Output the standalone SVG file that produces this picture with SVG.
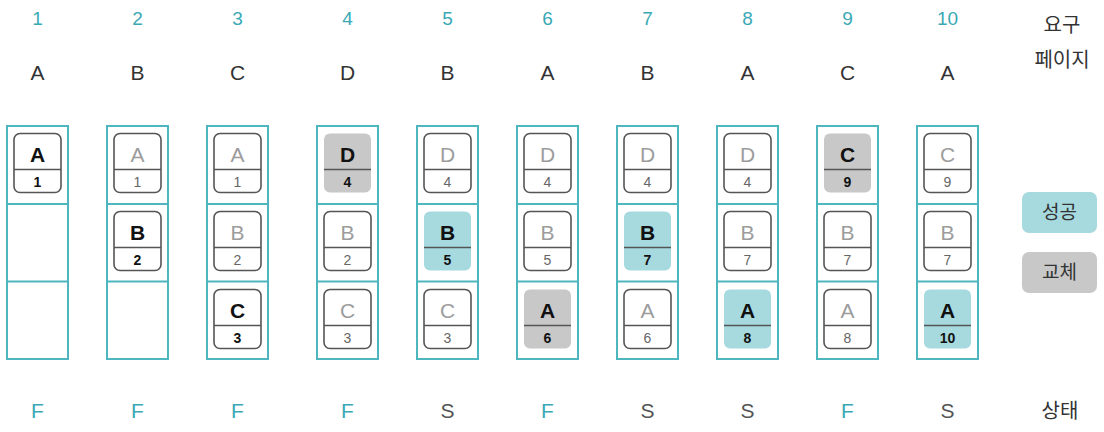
<svg xmlns="http://www.w3.org/2000/svg" width="1104" height="432" viewBox="0 0 1104 432">
<style>
text{font-family:"Liberation Sans","Noto Sans CJK KR",sans-serif;text-anchor:middle}
.num{fill:#3aa9b5;font-size:19px}
.req{fill:#333;font-size:21px}
.ko{fill:#333;font-size:20px;font-family:"Noto Sans CJK KR",sans-serif}
.f{fill:#3aa9b5;font-size:21px}
.s{fill:#555;font-size:21px}
.frame{fill:none;stroke:#4db6be;stroke-width:2}
.div{stroke:#4db6be;stroke-width:2}
.cb{fill:#fff;stroke:#555;stroke-width:1.6}
.ct{fill:#a6dadf;stroke:none}
.cg{fill:#c8c8c8;stroke:none}
.cl{stroke:#555;stroke-width:1.6}
.L{font-size:21px}
.N{font-size:14px}
.bold .L,.bold .N{fill:#111;font-weight:700}
.fade .L{fill:#9c9c9c}
.fade .N{fill:#666}
.lg{fill:#333;font-size:19px;font-family:"Noto Sans CJK KR",sans-serif}
</style>
<defs>
<g id="frame"><rect class="frame" x="0" y="0" width="61" height="233"/><line class="div" x1="0" y1="78" x2="61" y2="78"/><line class="div" x1="0" y1="155.5" x2="61" y2="155.5"/></g>
</defs>
<g id="header">
<text class="num" x="37.5" y="25">1</text><text class="num" x="137.5" y="25">2</text><text class="num" x="237.5" y="25">3</text><text class="num" x="347.5" y="25">4</text><text class="num" x="447.5" y="25">5</text><text class="num" x="547.5" y="25">6</text><text class="num" x="647.5" y="25">7</text><text class="num" x="747.5" y="25">8</text><text class="num" x="847.5" y="25">9</text><text class="num" x="947.5" y="25">10</text>
<text class="req" x="37.5" y="80">A</text><text class="req" x="137.5" y="80">B</text><text class="req" x="237.5" y="80">C</text><text class="req" x="347.5" y="80">D</text><text class="req" x="447.5" y="80">B</text><text class="req" x="547.5" y="80">A</text><text class="req" x="647.5" y="80">B</text><text class="req" x="747.5" y="80">A</text><text class="req" x="847.5" y="80">C</text><text class="req" x="947.5" y="80">A</text>
<text class="ko" x="1062" y="32">요구</text>
<text class="ko" x="1062" y="67">페이지</text>
</g>
<g id="frames">
<use href="#frame" x="7" y="126"/><use href="#frame" x="107" y="126"/><use href="#frame" x="207" y="126"/><use href="#frame" x="317" y="126"/><use href="#frame" x="417" y="126"/><use href="#frame" x="517" y="126"/><use href="#frame" x="617" y="126"/><use href="#frame" x="717" y="126"/><use href="#frame" x="817" y="126"/><use href="#frame" x="917" y="126"/>
</g>
<g id="cards">
<!-- col 1 -->
<g id="c1r1" class="bold" transform="translate(14,133.5)"><rect class="cb" width="47" height="59" rx="6"/><line class="cl" x1="0" y1="36" x2="47" y2="36"/><text class="L" x="23.5" y="28">A</text><text class="N" x="23.5" y="53">1</text></g>
<!-- col 2 -->
<g id="c2r1" class="fade" transform="translate(114,133.5)"><rect class="cb" width="47" height="59" rx="6"/><line class="cl" x1="0" y1="36" x2="47" y2="36"/><text class="L" x="23.5" y="28">A</text><text class="N" x="23.5" y="53">1</text></g>
<g id="c2r2" class="bold" transform="translate(114,211.5)"><rect class="cb" width="47" height="59" rx="6"/><line class="cl" x1="0" y1="36" x2="47" y2="36"/><text class="L" x="23.5" y="28">B</text><text class="N" x="23.5" y="53">2</text></g>
<!-- col 3 -->
<g id="c3r1" class="fade" transform="translate(214,133.5)"><rect class="cb" width="47" height="59" rx="6"/><line class="cl" x1="0" y1="36" x2="47" y2="36"/><text class="L" x="23.5" y="28">A</text><text class="N" x="23.5" y="53">1</text></g>
<g id="c3r2" class="fade" transform="translate(214,211.5)"><rect class="cb" width="47" height="59" rx="6"/><line class="cl" x1="0" y1="36" x2="47" y2="36"/><text class="L" x="23.5" y="28">B</text><text class="N" x="23.5" y="53">2</text></g>
<g id="c3r3" class="bold" transform="translate(214,289.5)"><rect class="cb" width="47" height="59" rx="6"/><line class="cl" x1="0" y1="36" x2="47" y2="36"/><text class="L" x="23.5" y="28">C</text><text class="N" x="23.5" y="53">3</text></g>
<!-- col 4 -->
<g id="c4r1" class="bold" transform="translate(324,133.5)"><rect class="cg" width="47" height="59" rx="6"/><line class="cl" x1="0" y1="36" x2="47" y2="36"/><text class="L" x="23.5" y="28">D</text><text class="N" x="23.5" y="53">4</text></g>
<g id="c4r2" class="fade" transform="translate(324,211.5)"><rect class="cb" width="47" height="59" rx="6"/><line class="cl" x1="0" y1="36" x2="47" y2="36"/><text class="L" x="23.5" y="28">B</text><text class="N" x="23.5" y="53">2</text></g>
<g id="c4r3" class="fade" transform="translate(324,289.5)"><rect class="cb" width="47" height="59" rx="6"/><line class="cl" x1="0" y1="36" x2="47" y2="36"/><text class="L" x="23.5" y="28">C</text><text class="N" x="23.5" y="53">3</text></g>
<!-- col 5 -->
<g id="c5r1" class="fade" transform="translate(424,133.5)"><rect class="cb" width="47" height="59" rx="6"/><line class="cl" x1="0" y1="36" x2="47" y2="36"/><text class="L" x="23.5" y="28">D</text><text class="N" x="23.5" y="53">4</text></g>
<g id="c5r2" class="bold" transform="translate(424,211.5)"><rect class="ct" width="47" height="59" rx="6"/><line class="cl" x1="0" y1="36" x2="47" y2="36"/><text class="L" x="23.5" y="28">B</text><text class="N" x="23.5" y="53">5</text></g>
<g id="c5r3" class="fade" transform="translate(424,289.5)"><rect class="cb" width="47" height="59" rx="6"/><line class="cl" x1="0" y1="36" x2="47" y2="36"/><text class="L" x="23.5" y="28">C</text><text class="N" x="23.5" y="53">3</text></g>
<!-- col 6 -->
<g id="c6r1" class="fade" transform="translate(524,133.5)"><rect class="cb" width="47" height="59" rx="6"/><line class="cl" x1="0" y1="36" x2="47" y2="36"/><text class="L" x="23.5" y="28">D</text><text class="N" x="23.5" y="53">4</text></g>
<g id="c6r2" class="fade" transform="translate(524,211.5)"><rect class="cb" width="47" height="59" rx="6"/><line class="cl" x1="0" y1="36" x2="47" y2="36"/><text class="L" x="23.5" y="28">B</text><text class="N" x="23.5" y="53">5</text></g>
<g id="c6r3" class="bold" transform="translate(524,289.5)"><rect class="cg" width="47" height="59" rx="6"/><line class="cl" x1="0" y1="36" x2="47" y2="36"/><text class="L" x="23.5" y="28">A</text><text class="N" x="23.5" y="53">6</text></g>
<!-- col 7 -->
<g id="c7r1" class="fade" transform="translate(624,133.5)"><rect class="cb" width="47" height="59" rx="6"/><line class="cl" x1="0" y1="36" x2="47" y2="36"/><text class="L" x="23.5" y="28">D</text><text class="N" x="23.5" y="53">4</text></g>
<g id="c7r2" class="bold" transform="translate(624,211.5)"><rect class="ct" width="47" height="59" rx="6"/><line class="cl" x1="0" y1="36" x2="47" y2="36"/><text class="L" x="23.5" y="28">B</text><text class="N" x="23.5" y="53">7</text></g>
<g id="c7r3" class="fade" transform="translate(624,289.5)"><rect class="cb" width="47" height="59" rx="6"/><line class="cl" x1="0" y1="36" x2="47" y2="36"/><text class="L" x="23.5" y="28">A</text><text class="N" x="23.5" y="53">6</text></g>
<!-- col 8 -->
<g id="c8r1" class="fade" transform="translate(724,133.5)"><rect class="cb" width="47" height="59" rx="6"/><line class="cl" x1="0" y1="36" x2="47" y2="36"/><text class="L" x="23.5" y="28">D</text><text class="N" x="23.5" y="53">4</text></g>
<g id="c8r2" class="fade" transform="translate(724,211.5)"><rect class="cb" width="47" height="59" rx="6"/><line class="cl" x1="0" y1="36" x2="47" y2="36"/><text class="L" x="23.5" y="28">B</text><text class="N" x="23.5" y="53">7</text></g>
<g id="c8r3" class="bold" transform="translate(724,289.5)"><rect class="ct" width="47" height="59" rx="6"/><line class="cl" x1="0" y1="36" x2="47" y2="36"/><text class="L" x="23.5" y="28">A</text><text class="N" x="23.5" y="53">8</text></g>
<!-- col 9 -->
<g id="c9r1" class="bold" transform="translate(824,133.5)"><rect class="cg" width="47" height="59" rx="6"/><line class="cl" x1="0" y1="36" x2="47" y2="36"/><text class="L" x="23.5" y="28">C</text><text class="N" x="23.5" y="53">9</text></g>
<g id="c9r2" class="fade" transform="translate(824,211.5)"><rect class="cb" width="47" height="59" rx="6"/><line class="cl" x1="0" y1="36" x2="47" y2="36"/><text class="L" x="23.5" y="28">B</text><text class="N" x="23.5" y="53">7</text></g>
<g id="c9r3" class="fade" transform="translate(824,289.5)"><rect class="cb" width="47" height="59" rx="6"/><line class="cl" x1="0" y1="36" x2="47" y2="36"/><text class="L" x="23.5" y="28">A</text><text class="N" x="23.5" y="53">8</text></g>
<!-- col 10 -->
<g id="c10r1" class="fade" transform="translate(924,133.5)"><rect class="cb" width="47" height="59" rx="6"/><line class="cl" x1="0" y1="36" x2="47" y2="36"/><text class="L" x="23.5" y="28">C</text><text class="N" x="23.5" y="53">9</text></g>
<g id="c10r2" class="fade" transform="translate(924,211.5)"><rect class="cb" width="47" height="59" rx="6"/><line class="cl" x1="0" y1="36" x2="47" y2="36"/><text class="L" x="23.5" y="28">B</text><text class="N" x="23.5" y="53">7</text></g>
<g id="c10r3" class="bold" transform="translate(924,289.5)"><rect class="ct" width="47" height="59" rx="6"/><line class="cl" x1="0" y1="36" x2="47" y2="36"/><text class="L" x="23.5" y="28">A</text><text class="N" x="23.5" y="53">10</text></g>
</g>
<g id="legend">
<g id="lg-success"><rect class="ct" x="1022" y="192" width="75" height="41" rx="7"/><text class="lg" x="1059.5" y="219">성공</text></g>
<g id="lg-replace"><rect class="cg" x="1022" y="252" width="75" height="41" rx="7"/><text class="lg" x="1059.5" y="279">교체</text></g>
</g>
<g id="status">
<text class="f" x="37.5" y="418">F</text><text class="f" x="137.5" y="418">F</text><text class="f" x="237.5" y="418">F</text><text class="f" x="347.5" y="418">F</text><text class="s" x="447.5" y="418">S</text><text class="f" x="547.5" y="418">F</text><text class="s" x="647.5" y="418">S</text><text class="s" x="747.5" y="418">S</text><text class="f" x="847.5" y="418">F</text><text class="s" x="947.5" y="418">S</text>
<text class="ko" x="1060" y="418">상태</text>
</g>
</svg>
